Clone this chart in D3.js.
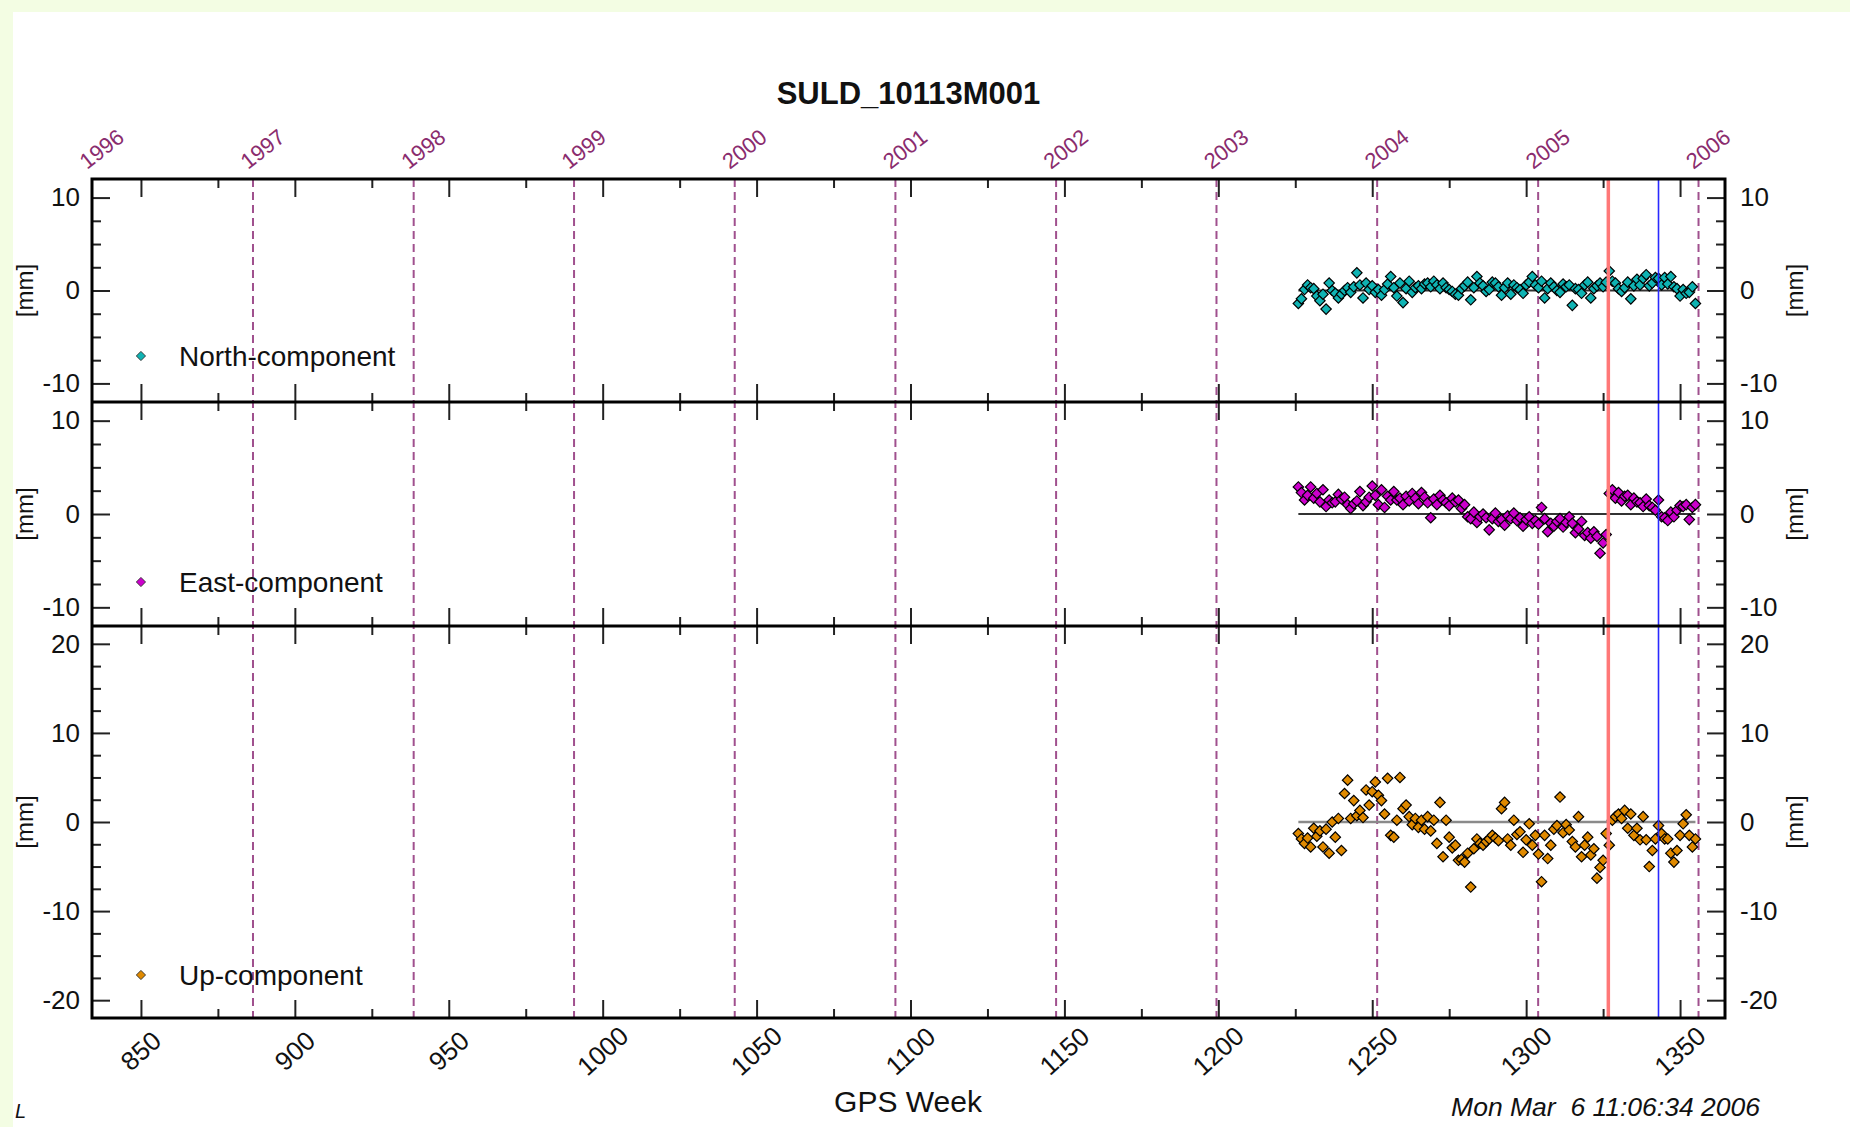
<!DOCTYPE html>
<html>
<head>
<meta charset="utf-8">
<script src="https://cdn.jsdelivr.net/npm/d3@7"></script>
<style>
  html, body { margin: 0; padding: 0; background: #f3fde3; }
  svg { display: block; font-family: "Liberation Sans", Arial, Helvetica, sans-serif; }
</style>
</head>
<body>
<svg id="chart" width="1850" height="1127"></svg>
<script>
const title = 'SULD_10113M001';
const timestamp = 'Mon Mar  6 11:06:34 2006';

// GPS weeks of the weekly solutions
const weeks = [
  1226, 1227, 1228, 1229, 1230, 1231, 1232, 1233, 1234, 1235, 1236, 1237, 1238, 1239, 1240,
  1241, 1242, 1243, 1244, 1245, 1246, 1247, 1248, 1249, 1250, 1251, 1252, 1253, 1254, 1255,
  1256, 1257, 1258, 1259, 1260, 1261, 1262, 1263, 1264, 1265, 1266, 1267, 1268, 1269, 1270,
  1271, 1272, 1273, 1274, 1275, 1276, 1277, 1278, 1279, 1280, 1281, 1282, 1283, 1284, 1285,
  1286, 1287, 1288, 1289, 1290, 1291, 1292, 1293, 1294, 1295, 1296, 1297, 1298, 1299, 1300,
  1301, 1302, 1303, 1304, 1305, 1306, 1307, 1308, 1309, 1310, 1311, 1312, 1313, 1314, 1315,
  1316, 1317, 1318, 1319, 1320, 1321, 1322, 1323, 1324, 1325, 1326, 1327, 1328, 1329, 1330,
  1331, 1332, 1333, 1334, 1335, 1336, 1337, 1338, 1339, 1340, 1341, 1342, 1343, 1344, 1345,
  1346, 1347, 1348, 1349, 1350, 1351, 1352, 1353, 1354, 1355
];

// residuals [mm]
const north = [
  -1.4, -0.9, 0.1, 0.6, 0.3, 0.2, -0.6, -1.1, -0.4, -2.0, 0.8, 0.0, -0.3, -0.8, -0.4,
  0.0, 0.3, -0.2, 0.4, 1.9, 0.6, -0.8, 0.8, 0.1, 0.5, -0.2, 0.1, -0.5, 0.1, 0.7,
  1.5, 0.3, -0.6, 0.8, -1.3, 0.2, 1.0, -0.2, 0.3, 0.5, 0.2, 0.7, 0.8, 0.4, 1.0,
  0.6, 0.2, 0.8, 0.3, 0.1, -0.1, -0.4, -0.5, 0.2, 0.5, 0.9, -1.0, 0.3, 1.5, 0.8,
  0.5, -0.1, 0.1, 0.9, 0.8, 0.4, -0.5, 0.3, 0.8, -0.4, 0.6, 0.3, 0.1, -0.3, 0.6,
  0.9, 1.5, 0.6, 0.3, 1.0, -0.8, 0.2, 0.8, 0.4, 0.0, -0.2, 0.7, 0.4, 0.6, -1.6,
  0.2, 0.1, -0.3, 0.6, 0.9, -0.8, 0.2, 0.5, 0.8, 0.4, 0.9, 2.1, 1.0, 0.8, 0.2,
  -0.1, 0.3, 0.9, -0.9, 0.5, 1.2, 0.6, 1.3, 1.7, 0.5, 0.8, 1.4, 1.3, 0.6, 1.4,
  0.7, 1.5, 0.4, 0.2, -0.6, 0.1, -0.3, -0.2, 0.4, -1.4
];
const east = [
  2.9, 2.3, 1.5, 2.0, 2.9, 1.7, 2.2, 1.3, 2.6, 0.8, 1.5, 1.2, 1.3, 2.1, 1.6,
  1.8, 1.0, 0.6, 1.1, 1.4, 2.4, 0.9, 1.3, 1.8, 3.0, 2.0, 1.0, 2.6, 0.7, 1.9,
  1.5, 2.4, 1.5, 1.7, 1.0, 1.9, 1.4, 2.2, 1.7, 1.1, 2.3, 1.8, 1.2, -0.4, 1.6,
  1.0, 2.0, 1.5, 1.2, 0.9, 1.7, 1.3, 1.5, 0.6, 1.0, -0.3, -0.5, 0.2, -0.9, -0.3,
  0.0, -0.4, -1.7, -0.5, 0.1, -0.8, -0.6, -1.2, -0.2, -0.5, 0.1, -0.7, -0.4, -1.3, -0.6,
  -0.3, -1.0, -0.7, -1.1, 0.7, -0.5, -1.9, -1.0, -1.3, -0.8, -0.5, -1.4, -0.9, -0.3, -1.0,
  -2.0, -1.6, -0.8, -2.3, -2.0, -2.6, -1.9, -2.4, -4.2, -3.1, -2.2, 2.2, 2.6, 1.7, 2.3,
  1.4, 1.9, 2.0, 1.0, 1.7, 1.3, 1.2, 0.8, 1.6, 0.9, 0.7, 0.4, 1.5, -0.3, -0.4,
  -0.7, 0.2, -0.3, 0.4, 0.9, 0.8, 1.0, -0.6, 0.7, 1.0
];
const up = [
  -1.3, -1.9, -2.4, -1.8, -2.8, -0.7, -1.6, -1.0, -2.8, -0.8, -3.5, 0.0, -1.7, 0.4, -3.2,
  3.2, 4.7, 0.4, 2.4, 0.7, 1.3, 0.5, 3.6, 1.9, 3.4, 4.5, 3.0, 2.4, 0.9, 4.9,
  -1.5, -1.7, 0.2, 5.0, 1.5, 1.9, 0.6, -0.3, 0.4, -0.6, 0.2, -0.8, 0.6, -1.0, 0.2,
  -2.4, 2.2, -3.9, 0.2, -1.7, -2.9, -2.6, -4.3, -4.2, -4.5, -3.5, -7.3, -3.0, -1.9, -2.4,
  -2.6, -2.2, -1.9, -1.5, -1.8, -2.1, 1.5, 2.2, -1.9, -2.6, 0.2, -1.4, -1.1, -3.4, -2.0,
  -0.2, -2.6, -1.5, -3.6, -6.7, -1.5, -4.1, -2.6, -0.8, -0.4, 2.8, -1.2, -0.3, -0.9, -2.2,
  -2.8, 0.6, -3.9, -2.6, -1.7, -3.7, -3.0, -6.3, -5.1, -4.3, -1.3, -2.6, 0.2, 0.6, 0.9,
  0.4, 1.3, -0.7, 0.9, -1.5, -0.7, -2.0, 0.6, -2.0, -5.0, -3.2, -1.9, -0.4, -1.3, -1.9,
  -1.9, -3.5, -4.5, -3.2, -1.5, -0.2, 0.8, -1.5, -2.8, -1.9
];

const components = ['North-component', 'East-component', 'Up-component'];
const componentColors = ['#0fb3b3', '#cc00cc', '#e08a00'];
const northTicks = [-10, 0, 10];
const eastTicks = [-10, 0, 10];
const upTicks = [-20, -10, 0, 10, 20];

// calendar years and the GPS week in which each one starts
const years = [1996, 1997, 1998, 1999, 2000, 2001, 2002, 2003, 2004, 2005, 2006];
const yearWeeks = [834.1, 886.4, 938.6, 990.7, 1042.9, 1095.1, 1147.3, 1199.4, 1251.6, 1303.9, 1356.0];

const weekTicks = [850, 900, 950, 1000, 1050, 1100, 1150, 1200, 1250, 1300, 1350];
const weekMinorTicks = [875, 925, 975, 1025, 1075, 1125, 1175, 1225, 1275, 1325];

// equipment change (red) and reference epoch (blue)
const eventWeeks = [1326.7, 1343.0];
const eventColors = ['#ff7878', '#2a2aff'];

// ---------------------------------------------------------------------------

const W = 1850, H = 1127;
const plot = { left: 92, right: 1725 };
const bands = [[179, 402], [402, 626], [626, 1018]];
const plotTop = bands[0][0], plotBottom = bands[2][1];

const panels = [
  { name: components[0], values: north, color: componentColors[0], ext: 12, ticks: northTicks, zero: '#333' },
  { name: components[1], values: east, color: componentColors[1], ext: 12, ticks: eastTicks, zero: '#333' },
  { name: components[2], values: up, color: componentColors[2], ext: 22, ticks: upTicks, zero: '#8a8a8a' },
];

const svg = d3.select('#chart');

svg.append('rect').attr('width', W).attr('height', H).attr('fill', '#f3fde3');
svg.append('rect').attr('x', 13).attr('y', 12).attr('width', W - 13).attr('height', H - 12).attr('fill', '#fff');

const x = d3.scaleLinear().domain([834.1, 1364.6]).range([plot.left, plot.right]);

const diamond = (r) => d3.symbol().type(d3.symbolSquare).size(2 * r * r)();

// year grid lines
svg.append('g').attr('class', 'years')
  .selectAll('line')
  .data(yearWeeks)
  .join('line')
  .attr('x1', (d) => x(d)).attr('x2', (d) => x(d))
  .attr('y1', plotTop).attr('y2', plotBottom)
  .attr('stroke', '#a0508e')
  .attr('stroke-width', 2)
  .attr('stroke-dasharray', '8,5');

svg.append('g').attr('class', 'year-labels')
  .selectAll('text')
  .data(years)
  .join('text')
  .attr('transform', (d, i) => `translate(${x(yearWeeks[i]) - 5},170) rotate(-38)`)
  .attr('font-size', 22)
  .attr('fill', '#8a2c6e')
  .text((d) => d);

function styleAxis(g) {
  g.select('.domain').remove();
  g.selectAll('.tick line').attr('stroke', '#222').attr('stroke-width', 2);
  g.selectAll('.tick text').attr('font-size', 26).attr('fill', '#111')
    .attr('font-family', '"Liberation Sans", Arial, sans-serif');
}

panels.forEach((p, i) => {
  const [y0, y1] = bands[i];
  const y = d3.scaleLinear().domain([-p.ext, p.ext]).range([y1, y0]);
  const lo = p.ticks[0], hi = p.ticks[p.ticks.length - 1];
  const minor = d3.range(lo, hi + 0.01, 2.5).filter((v) => !p.ticks.includes(v));
  const g = svg.append('g').attr('class', 'panel');

  // trend line (zero after detrending)
  g.append('line')
    .attr('x1', x(weeks[0])).attr('x2', x(weeks[weeks.length - 1]))
    .attr('y1', y(0)).attr('y2', y(0))
    .attr('stroke', p.zero)
    .attr('stroke-width', i === 2 ? 2.5 : 2);

  g.append('g')
    .selectAll('path')
    .data(p.values)
    .join('path')
    .attr('d', diamond(5.2))
    .attr('transform', (d, k) => `translate(${x(weeks[k])},${y(d)}) rotate(45)`)
    .attr('fill', p.color)
    .attr('stroke', '#000')
    .attr('stroke-width', 1.2);

  // left / right y axes, ticks pointing inwards
  g.append('g').attr('transform', `translate(${plot.left},0)`)
    .call(d3.axisLeft(y).tickValues(minor).tickSize(-9).tickFormat(''))
    .call(styleAxis);
  g.append('g').attr('transform', `translate(${plot.left},0)`)
    .call(d3.axisLeft(y).tickValues(p.ticks).tickSize(-18).tickPadding(12).tickFormat((d) => String(d)))
    .call(styleAxis);
  g.append('g').attr('transform', `translate(${plot.right},0)`)
    .call(d3.axisRight(y).tickValues(minor).tickSize(-9).tickFormat(''))
    .call(styleAxis);
  g.append('g').attr('transform', `translate(${plot.right},0)`)
    .call(d3.axisRight(y).tickValues(p.ticks).tickSize(-18).tickPadding(15).tickFormat((d) => String(d)))
    .call(styleAxis);

  // x ticks at top and bottom of every panel
  g.append('g').attr('transform', `translate(0,${y0})`)
    .call(d3.axisBottom(x).tickValues(weekTicks).tickSize(18).tickFormat(''))
    .call(styleAxis);
  g.append('g').attr('transform', `translate(0,${y0})`)
    .call(d3.axisBottom(x).tickValues(weekMinorTicks).tickSize(9).tickFormat(''))
    .call(styleAxis);
  g.append('g').attr('transform', `translate(0,${y1})`)
    .call(d3.axisTop(x).tickValues(weekTicks).tickSize(18).tickFormat(''))
    .call(styleAxis);
  g.append('g').attr('transform', `translate(0,${y1})`)
    .call(d3.axisTop(x).tickValues(weekMinorTicks).tickSize(9).tickFormat(''))
    .call(styleAxis);

  // unit labels
  const yc = (y0 + y1) / 2;
  [24, 1794].forEach((lx) => {
    g.append('text')
      .attr('transform', `translate(${lx},${yc}) rotate(-90)`)
      .attr('text-anchor', 'middle')
      .attr('dominant-baseline', 'central')
      .attr('font-size', 24)
      .attr('fill', '#111')
      .text('[mm]');
  });

  // legend
  const ly = [356, 582, 975][i];
  g.append('path')
    .attr('d', diamond(4.6))
    .attr('transform', `translate(${x(850)},${ly}) rotate(45)`)
    .attr('fill', p.color)
    .attr('stroke', '#222')
    .attr('stroke-width', 0.8);
  g.append('text')
    .attr('x', 179).attr('y', ly)
    .attr('dominant-baseline', 'central')
    .attr('font-size', 28)
    .attr('fill', '#111')
    .text(p.name);
});

// event lines
svg.append('g').attr('class', 'events')
  .selectAll('line')
  .data(eventWeeks)
  .join('line')
  .attr('x1', (d) => x(d)).attr('x2', (d) => x(d))
  .attr('y1', plotTop).attr('y2', plotBottom)
  .attr('stroke', (d, i) => eventColors[i])
  .attr('stroke-width', (d, i) => (i === 0 ? 3.5 : 1.6));

// frame and panel separators
svg.append('rect')
  .attr('x', plot.left).attr('y', plotTop)
  .attr('width', plot.right - plot.left).attr('height', plotBottom - plotTop)
  .attr('fill', 'none').attr('stroke', '#000').attr('stroke-width', 3);
svg.append('g').selectAll('line')
  .data([bands[1][0], bands[2][0]])
  .join('line')
  .attr('x1', plot.left).attr('x2', plot.right)
  .attr('y1', (d) => d).attr('y2', (d) => d)
  .attr('stroke', '#000').attr('stroke-width', 3);

// GPS week labels
svg.append('g').attr('class', 'week-labels')
  .selectAll('text')
  .data(weekTicks)
  .join('text')
  .attr('transform', (d) => `translate(${x(d)},1051) rotate(-42)`)
  .attr('text-anchor', 'middle')
  .attr('dominant-baseline', 'central')
  .attr('font-size', 26)
  .attr('fill', '#111')
  .text((d) => d);

svg.append('text')
  .attr('x', (plot.left + plot.right) / 2).attr('y', 104)
  .attr('text-anchor', 'middle')
  .attr('font-size', 31)
  .attr('font-weight', 'bold')
  .attr('fill', '#111')
  .text(title);

svg.append('text')
  .attr('x', 908).attr('y', 1112)
  .attr('text-anchor', 'middle')
  .attr('font-size', 30)
  .attr('fill', '#111')
  .text('GPS Week');

svg.append('text')
  .attr('x', 1760).attr('y', 1116)
  .attr('text-anchor', 'end')
  .attr('font-size', 26.5)
  .attr('font-style', 'italic')
  .attr('fill', '#111')
  .style('white-space', 'pre')
  .text(timestamp);

svg.append('text')
  .attr('x', 15).attr('y', 1118)
  .attr('font-size', 20)
  .attr('font-style', 'italic')
  .attr('fill', '#111')
  .text('L');
</script>
</body>
</html>
